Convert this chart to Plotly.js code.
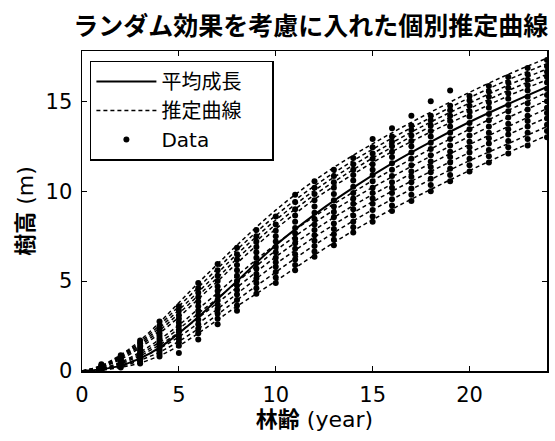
<!DOCTYPE html>
<html>
<head>
<meta charset="utf-8">
<script src="https://cdn.plot.ly/plotly-3.0.1.min.js"></script>
<style>html,body{margin:0;padding:0;background:#fff;}#chart{width:555px;height:441px;}</style>
</head>
<body>
<div id="chart"></div>
<script>
// ---- data ----
const ages = [0,1,2,3,4,5,6,7,8,10,12,14,16,18,20,22,24];
const meanGrowth = [0,0.1,0.3,0.7,1.3,2.1,3.0,4.0,5.0,7.0,8.7,10.2,11.55,12.75,13.85,14.85,15.8];
const curve1  = [0,0.3,0.9,1.7,2.7,3.8,4.9,5.95,7.0,8.95,10.6,12.0,13.25,14.4,15.5,16.5,17.4];
const curve2  = [0,0.28,0.85,1.6,2.55,3.6,4.65,5.7,6.75,8.65,10.3,11.7,12.95,14.1,15.2,16.2,17.1];
const curve3  = [0,0.25,0.78,1.5,2.4,3.4,4.4,5.45,6.5,8.4,10.05,11.45,12.7,13.85,14.9,15.9,16.8];
const curve4  = [0,0.22,0.72,1.4,2.25,3.2,4.2,5.2,6.25,8.15,9.8,11.2,12.45,13.6,14.6,15.6,16.5];
const curve5  = [0,0.2,0.65,1.3,2.1,3.0,4.0,5.0,6.0,7.9,9.55,10.95,12.2,13.3,14.3,15.3,16.2];
const curve6  = [0,0.15,0.5,1.05,1.75,2.55,3.45,4.35,5.3,7.05,8.6,9.95,11.2,12.35,13.45,14.5,15.5];
const curve7  = [0,0.12,0.45,0.95,1.6,2.35,3.2,4.05,4.95,6.7,8.25,9.6,10.8,11.95,13.05,14.1,15.05];
const curve8  = [0,0.1,0.4,0.85,1.45,2.15,2.95,3.8,4.65,6.35,7.85,9.2,10.4,11.55,12.6,13.6,14.6];
const curve9  = [0,0.08,0.32,0.72,1.25,1.9,2.65,3.45,4.3,5.95,7.45,8.8,10.0,11.1,12.15,13.15,14.1];
const curve10 = [0,0.06,0.25,0.6,1.05,1.65,2.35,3.15,3.95,5.5,7.0,8.35,9.55,10.65,11.7,12.65,13.6];
const curve11 = [0,0.05,0.2,0.45,0.85,1.4,2.1,2.85,3.6,5.0,6.45,7.8,9.0,10.1,11.15,12.15,13.1];
const estCurves = [curve1,curve2,curve3,curve4,curve5,curve6,curve7,curve8,curve9,curve10,curve11];

const obsYears = [1,2,3,4,5,6,7,8,9,10,11,12,13,14,15,16,17,18,19,20,21,22,23,24];
const obsHeights = [
  [0.05,0.08,0.12,0.15,0.18,0.22,0.25,0.3,0.38],
  [0.2,0.26,0.33,0.4,0.48,0.55,0.62,0.7,0.78,0.88],
  [0.42,0.52,0.62,0.72,0.82,0.93,1.03,1.15,1.28,1.4,1.55,1.7],
  [0.8,0.95,1.1,1.22,1.38,1.5,1.65,1.8,1.95,2.1,2.3,2.5,2.75],
  [1.0,1.4,1.6,1.8,1.95,2.15,2.3,2.5,2.7,2.9,3.1,3.35,3.6],
  [1.75,2.1,2.35,2.6,2.85,3.1,3.35,3.6,3.85,4.1,4.35,4.6,4.9],
  [2.6,2.9,3.2,3.45,3.7,3.95,4.2,4.45,4.7,5.0,5.3,5.6,5.95],
  [3.35,3.65,3.95,4.25,4.5,4.75,5.0,5.3,5.6,5.9,6.2,6.5,6.85],
  [4.3,4.6,4.9,5.15,5.4,5.7,6.0,6.3,6.6,6.9,7.2,7.5,7.85],
  [4.9,5.2,5.5,5.8,6.05,6.3,6.6,6.9,7.2,7.5,7.8,8.15,8.6],
  [5.6,5.9,6.2,6.5,6.8,7.1,7.35,7.65,7.95,8.3,8.65,9.0,9.4,9.8],
  [6.35,6.65,6.95,7.25,7.55,7.85,8.15,8.45,8.8,9.15,9.5,9.85,10.2,10.55],
  [7.0,7.3,7.6,7.9,8.2,8.55,8.85,9.15,9.5,9.85,10.2,10.5,10.85,11.2],
  [7.7,8.0,8.3,8.65,9.0,9.3,9.6,9.9,10.25,10.6,10.9,11.2,11.5,11.85],
  [8.3,8.6,8.95,9.3,9.6,9.9,10.2,10.55,10.9,11.2,11.5,11.8,12.1,12.45,12.9],
  [8.9,9.2,9.55,9.9,10.2,10.5,10.85,11.2,11.55,11.9,12.2,12.5,12.75,13.05,13.5],
  [9.45,9.8,10.15,10.5,10.8,11.1,11.45,11.8,12.15,12.5,12.8,13.1,13.4,13.65,14.2],
  [10.0,10.35,10.7,11.05,11.35,11.65,12.0,12.35,12.7,13.05,13.35,13.65,13.95,14.2,15.0],
  [10.55,10.9,11.25,11.6,11.9,12.2,12.55,12.9,13.25,13.6,13.9,14.2,14.5,14.75,15.6],
  [11.1,11.45,11.8,12.15,12.45,12.75,13.1,13.45,13.8,14.15,14.45,14.75,15.05,15.3],
  [11.6,11.95,12.3,12.65,12.95,13.25,13.6,13.95,14.3,14.65,14.95,15.25,15.55,15.85],
  [12.1,12.45,12.8,13.15,13.45,13.75,14.1,14.45,14.8,15.15,15.45,15.75,16.05,16.35],
  [12.55,12.9,13.25,13.6,13.9,14.2,14.55,14.9,15.25,15.6,15.9,16.2,16.5,16.85],
  [13.0,13.35,13.7,14.05,14.35,14.65,15.0,15.35,15.7,16.05,16.35,16.65,16.95,17.3]
];
const xTickVals = [0,5,10,15,20];
const yTickVals = [0,5,10,15];
const legendNames = ['平均成長','推定曲線','Data'];

// ---- build traces ----
const pad = '\u00a0\u00a0\u00a0\u00a0';
const traces = [];
traces.push({
  x: ages, y: meanGrowth, type: 'scatter', mode: 'lines', name: legendNames[0] + pad,
  line: {color: '#000', width: 2, shape: 'spline'}
});
estCurves.forEach((c, i) => {
  traces.push({
    x: ages, y: c, type: 'scatter', mode: 'lines', name: legendNames[1] + pad,
    legendgroup: 'est', showlegend: i === 0,
    line: {color: '#000', width: 1.5, dash: '4px,3px', shape: 'spline'}
  });
});
const ox = [], oy = [];
obsYears.forEach((yr, i) => { obsHeights[i].forEach(h => { ox.push(yr); oy.push(h); }); });
traces.push({
  x: ox, y: oy, type: 'scatter', mode: 'markers', name: legendNames[2],
  marker: {color: '#000', size: 6}
});

const tickFont = {family: 'DejaVu Sans, Noto Sans CJK JP', size: 21, color: '#000'};
const titleFontFamily = 'DejaVu Sans, Noto Sans CJK JP';
const layout = {
  width: 555, height: 441,
  margin: {l: 82, r: 8, t: 51, b: 70},
  paper_bgcolor: '#fff', plot_bgcolor: '#fff',
  showlegend: true,
  title: {text: 'ランダム効果を考慮に入れた個別推定曲線', font: {family: 'Noto Sans CJK JP', size: 25, color: '#000', weight: 'bold'},
          x: 0.56, xanchor: 'center', y: 0.94, yanchor: 'middle', xref: 'container', yref: 'container'},
  xaxis: {
    range: [0, 24], tickvals: xTickVals, ticks: 'inside', ticklen: 5, tickwidth: 1.2, tickcolor: '#000',
    showline: true, linecolor: '#000', linewidth: 1.5, mirror: 'ticks', showgrid: false, zeroline: false,
    tickfont: tickFont, ticklabelstandoff: 4,
    title: {text: '<b>林齢</b> (year)', font: {family: titleFontFamily, size: 22, color: '#000'}, standoff: 2}
  },
  yaxis: {
    range: [0, 17.8], tickvals: yTickVals, ticks: 'inside', ticklen: 5, tickwidth: 1.2, tickcolor: '#000',
    showline: true, linecolor: '#000', linewidth: 1.5, mirror: 'ticks', showgrid: false, zeroline: false,
    tickfont: tickFont, ticklabelstandoff: 4,
    title: {text: '<b>樹高</b> (m)', font: {family: titleFontFamily, size: 22, color: '#000'}, standoff: 6}
  },
  legend: {
    x: 0.017, y: 0.97, xanchor: 'left', yanchor: 'top',
    bgcolor: '#fff', bordercolor: '#000', borderwidth: 1.5,
    font: {family: 'DejaVu Sans, Noto Sans CJK JP', size: 20, color: '#000'},
    itemwidth: 60, traceorder: 'normal'
  }
};
Plotly.newPlot('chart', traces, layout, {displayModeBar: false, staticPlot: true});
</script>
</body>
</html>
